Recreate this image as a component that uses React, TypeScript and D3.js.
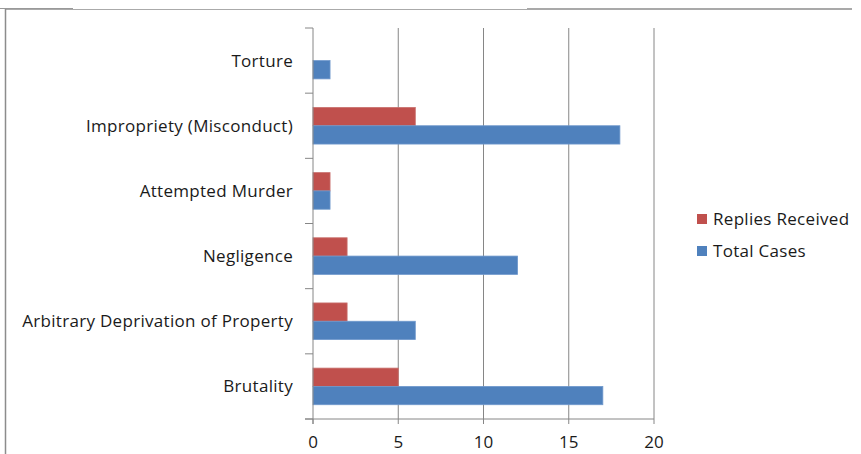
import React from "react";
import * as d3 from "d3";

const categories = [
  "Torture",
  "Impropriety (Misconduct)",
  "Attempted Murder",
  "Negligence",
  "Arbitrary Deprivation of Property",
  "Brutality",
];
const seriesNames = ["Replies Received", "Total Cases"];
const repliesReceived = [0, 6, 1, 2, 2, 5];
const totalCases = [1, 18, 1, 12, 6, 17];
const xTicks = [0, 5, 10, 15, 20];
const colors = ["#C0504D", "#4F81BD"];
const strokes = ["#C9706D", "#6F98CC"];

const W = 861;
const H = 454;
const FONT = "'Open Sans', sans-serif";

export default function App() {
  const x = d3.scaleLinear().domain([0, 20]).range([313, 654]);
  const y = d3.scaleBand<string>().domain(categories).range([28, 419]).paddingInner(0).paddingOuter(0);
  const sub = d3
    .scaleBand<string>()
    .domain(seriesNames)
    .range([0, y.bandwidth()])
    .paddingInner(0)
    .paddingOuter(0.78);
  const series = [repliesReceived, totalCases];
  const axisColor = "#868686";
  const boundaries = d3.range(categories.length + 1).map((i) => 28 + i * y.step());

  return (
    <div style={{ position: "fixed", left: 0, top: 0 }}>
      <svg width={W} height={H} style={{ display: "block", background: "#fff" }}>
        {/* frame */}
        <line x1={0} x2={73} y1={8.5} y2={8.5} stroke="#999" strokeWidth={1} />
        <line x1={5} x2={527} y1={9.5} y2={9.5} stroke="#aaa" strokeWidth={1} />
        <line x1={527} x2={852} y1={9} y2={9} stroke="#8c8c8c" strokeWidth={1.5} />
        <line x1={5.5} x2={5.5} y1={9} y2={H} stroke="#8c8c8c" strokeWidth={1.5} />

        {/* gridlines */}
        {xTicks.slice(1).map((t) => (
          <line key={"g" + t} x1={x(t)} x2={x(t)} y1={28} y2={419} stroke={axisColor} strokeWidth={1} />
        ))}

        {/* bars */}
        {categories.map((c, i) =>
          series.map((s, si) =>
            s[i] > 0 ? (
              <rect
                key={c + si}
                x={x(0)}
                y={(y(c) as number) + (sub(seriesNames[si]) as number)}
                width={x(s[i]) - x(0)}
                height={sub.bandwidth()}
                fill={colors[si]}
                stroke={strokes[si]}
                strokeWidth={0.8}
              />
            ) : null
          )
        )}

        {/* y axis */}
        <line x1={313} x2={313} y1={28} y2={424} stroke={axisColor} strokeWidth={1} />
        {boundaries.map((b, i) => (
          <line key={"yt" + i} x1={305} x2={313} y1={b} y2={b} stroke={axisColor} strokeWidth={1} />
        ))}
        {categories.map((c) => (
          <text
            key={"l" + c}
            x={293}
            y={(y(c) as number) + y.bandwidth() / 2}
            dy="0.35em"
            textAnchor="end"
            fontFamily={FONT}
            fontSize={17}
            letterSpacing={0.3}
            fill="#1a1a1a"
          >
            {c}
          </text>
        ))}

        {/* x axis */}
        <line x1={305} x2={654} y1={419} y2={419} stroke={axisColor} strokeWidth={1} />
        {xTicks.map((t) => (
          <g key={"xt" + t}>
            <line x1={x(t)} x2={x(t)} y1={419} y2={424} stroke={axisColor} strokeWidth={1} />
            <text
              x={x(t)}
              y={442}
              dy="0.35em"
              textAnchor="middle"
              fontFamily={FONT}
              fontSize={17}
              fill="#1a1a1a"
            >
              {t}
            </text>
          </g>
        ))}

        {/* legend */}
        {seriesNames.map((n, i) => (
          <g key={"lg" + n} transform={`translate(697, ${214 + i * 32})`}>
            <rect x={0} y={0} width={10} height={10} fill={colors[i]} />
            <text x={16} y={5} dy="0.35em" fontFamily={FONT} fontSize={17} letterSpacing={0.3} fill="#1a1a1a">
              {n}
            </text>
          </g>
        ))}
      </svg>
    </div>
  );
}
